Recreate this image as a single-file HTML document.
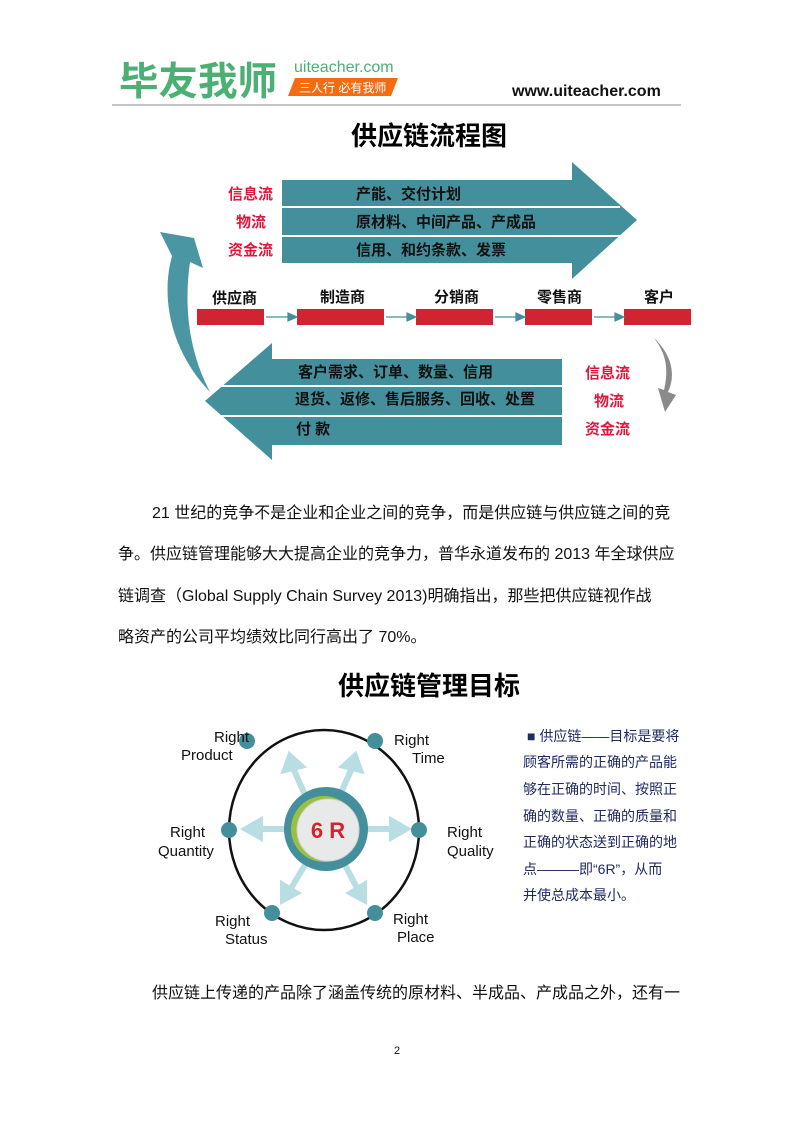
<!DOCTYPE html>
<html><head><meta charset="utf-8"><style>
body{margin:0;background:#fff;}
svg{display:block}
text{font-family:"Liberation Sans","Noto Sans CJK SC",sans-serif;}
</style></head><body>
<svg width="794" height="1123" viewBox="0 0 794 1123" xmlns="http://www.w3.org/2000/svg">
<!-- header -->
<text x="119" y="95" font-size="39" font-weight="bold" fill="#4caf74" textLength="158" lengthAdjust="spacingAndGlyphs">毕友我师</text>
<text x="294" y="72" font-size="16" fill="#4caf74">uiteacher.com</text>
<polygon points="295,78 398,78 391,96 288,96" fill="#f36c10"/>
<text x="299" y="92" font-size="12" fill="#fff">三人行 必有我师</text>
<text x="512" y="96" font-size="16" font-weight="bold" fill="#111">www.uiteacher.com</text>
<line x1="112" y1="105" x2="681" y2="105" stroke="#888" stroke-width="1"/>
<text x="429" y="145" font-size="26" font-weight="bold" text-anchor="middle" fill="#000">供应链流程图</text>

<!-- top arrow -->
<polygon points="282,180 572,180 572,162 637,220 572,279 572,263 282,263" fill="#448f9c"/>
<line x1="282" y1="207" x2="620" y2="207" stroke="#fff" stroke-width="2"/>
<line x1="282" y1="236" x2="620" y2="236" stroke="#fff" stroke-width="2"/>
<g font-size="15" font-weight="bold" fill="#111">
<text x="356" y="199">产能、交付计划</text>
<text x="356" y="227">原材料、中间产品、产成品</text>
<text x="356" y="255">信用、和约条款、发票</text>
</g>
<g font-size="15" font-weight="bold" fill="#e0163c">
<text x="228" y="199">信息流</text>
<text x="236" y="227">物流</text>
<text x="228" y="255">资金流</text>
<text x="585" y="378">信息流</text>
<text x="594" y="406">物流</text>
<text x="585" y="434">资金流</text>
</g>

<!-- nodes -->
<g font-size="15" font-weight="bold" fill="#111">
<text x="212" y="303">供应商</text>
<text x="320" y="302">制造商</text>
<text x="434" y="302">分销商</text>
<text x="537" y="302">零售商</text>
<text x="644" y="302">客户</text>
</g>
<g fill="#d12432">
<rect x="197" y="309" width="67" height="16"/>
<rect x="297" y="309" width="87" height="16"/>
<rect x="416" y="309" width="77" height="16"/>
<rect x="525" y="309" width="67" height="16"/>
<rect x="624" y="309" width="67" height="16"/>
</g>
<g stroke="#448f9c" stroke-width="1.2" fill="#448f9c">
<line x1="266" y1="317" x2="290" y2="317"/><polygon points="288,313 297,317 288,321"/>
<line x1="386" y1="317" x2="409" y2="317"/><polygon points="407,313 416,317 407,321"/>
<line x1="495" y1="317" x2="518" y2="317"/><polygon points="516,313 525,317 516,321"/>
<line x1="594" y1="317" x2="617" y2="317"/><polygon points="615,313 624,317 615,321"/>
</g>

<!-- bottom arrow -->
<polygon points="562,359 272,359 272,343 205,401 272,460 272,445 562,445" fill="#448f9c"/>
<line x1="220" y1="386" x2="562" y2="386" stroke="#fff" stroke-width="2"/>
<line x1="220" y1="416" x2="562" y2="416" stroke="#fff" stroke-width="2"/>
<g font-size="15" font-weight="bold" fill="#111">
<text x="298" y="377">客户需求、订单、数量、信用</text>
<text x="295" y="404">退货、返修、售后服务、回收、处置</text>
<text x="296" y="434">付 款</text>
</g>

<!-- curved arrows -->
<path d="M210,392 C172,352 160,300 172,256 L160,232 L194,238 L203,268 L190,262 C184,305 188,350 210,392 Z" fill="#4a97a3"/>
<path d="M654,338 C672,355 676,375 668,392 L676,395 L665,412 L658,388 L664,390 C668,372 668,356 654,338 Z" fill="#8a8a8a"/>

<!-- paragraph -->
<g font-size="16" fill="#111">
<text x="152" y="518">21 世纪的竞争不是企业和企业之间的竞争，而是供应链与供应链之间的竞</text>
<text x="118" y="559">争。供应链管理能够大大提高企业的竞争力，普华永道发布的 2013 年全球供应</text>
<text x="118" y="601">链调查（Global Supply Chain Survey 2013)明确指出，那些把供应链视作战</text>
<text x="118" y="642">略资产的公司平均绩效比同行高出了 70%。</text>
<text x="152" y="998">供应链上传递的产品除了涵盖传统的原材料、半成品、产成品之外，还有一</text>
</g>
<text x="429" y="695" font-size="26" font-weight="bold" text-anchor="middle" fill="#000">供应链管理目标</text>

<!-- 6R diagram -->
<ellipse cx="324" cy="830" rx="95" ry="100" fill="none" stroke="#111" stroke-width="2.5"/>
<g stroke="#b8dde2" stroke-width="6" fill="#b8dde2">
<line x1="305" y1="795" x2="293" y2="768"/><polygon points="285,770 290,756 301,766"/>
<line x1="340" y1="795" x2="352" y2="768"/><polygon points="344,766 355,756 360,770"/>
<line x1="290" y1="829" x2="260" y2="829"/><polygon points="260,821 246,829 260,837"/>
<line x1="360" y1="829" x2="392" y2="829"/><polygon points="392,821 406,829 392,837"/>
<line x1="305" y1="865" x2="290" y2="890"/><polygon points="283,885 283,900 296,893"/>
<line x1="345" y1="865" x2="358" y2="890"/><polygon points="351,893 364,900 364,885"/>
</g>
<g fill="#448f9c">
<circle cx="247" cy="741" r="8"/><circle cx="375" cy="741" r="8"/>
<circle cx="229" cy="830" r="8"/><circle cx="419" cy="830" r="8"/>
<circle cx="272" cy="913" r="8"/><circle cx="375" cy="913" r="8"/>
<circle cx="326" cy="829" r="42"/>
</g>
<circle cx="324" cy="829" r="33" fill="#9ac040"/>
<circle cx="328" cy="830" r="31" fill="#e8eaea" stroke="#cfd3d3" stroke-width="1"/>
<text x="328" y="838" font-size="22" font-weight="bold" text-anchor="middle" fill="#d12432">6  R</text>
<g font-size="15" fill="#111">
<text x="214" y="742">Right</text><text x="181" y="760">Product</text>
<text x="394" y="745">Right</text><text x="412" y="763">Time</text>
<text x="170" y="837">Right</text><text x="158" y="856">Quantity</text>
<text x="447" y="837">Right</text><text x="447" y="856">Quality</text>
<text x="215" y="926">Right</text><text x="225" y="944">Status</text>
<text x="393" y="924">Right</text><text x="397" y="942">Place</text>
</g>
<g font-size="14" fill="#1f2a60">
<text x="527" y="741">■ 供应链——目标是要将</text>
<text x="523" y="767">顾客所需的正确的产品能</text>
<text x="523" y="794">够在正确的时间、按照正</text>
<text x="523" y="821">确的数量、正确的质量和</text>
<text x="523" y="847">正确的状态送到正确的地</text>
<text x="523" y="874">点———即“6R”，从而</text>
<text x="523" y="900">并使总成本最小。</text>
</g>
<text x="397" y="1054" font-size="11" text-anchor="middle" fill="#111">2</text>
</svg>
</body></html>
